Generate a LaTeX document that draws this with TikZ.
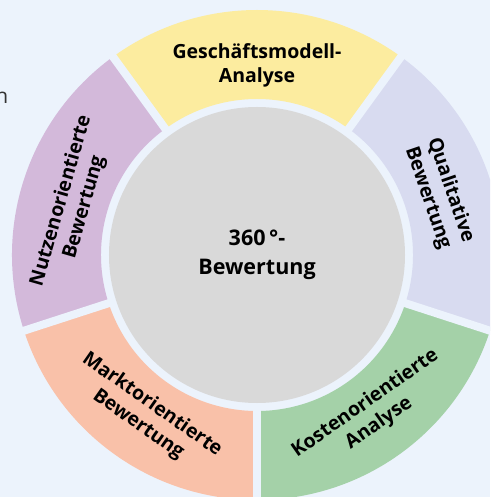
\documentclass[tikz,border=0pt]{standalone}
\usepackage{fontspec}
\setmainfont{Open Sans}
\definecolor{bgc}{HTML}{ECF3FC}
\definecolor{cyel}{HTML}{FCEC9F}
\definecolor{clav}{HTML}{D8DBF0}
\definecolor{cgrn}{HTML}{A4D1A8}
\definecolor{cpnk}{HTML}{F9C1A9}
\definecolor{cpur}{HTML}{D3B9DA}
\definecolor{cgry}{HTML}{D9D9D9}
\definecolor{ctxt}{HTML}{333333}
\tikzset{
  lab/.style={font=\bfseries\fontsize{19.5}{24}\selectfont, align=center, text=black, inner sep=0pt},
  midlab/.style={font=\bfseries\fontsize{21.5}{29}\selectfont, align=center, text=black, inner sep=0pt},
  gapline/.style={bgc, line width=8pt},
}
\newcommand{\ringsector}[3]{%
  \fill[#3] (#1:156) -- (#1:245) arc[start angle=#1, end angle=#2, radius=245]
    -- (#2:156) arc[start angle=#2, end angle=#1, radius=156] -- cycle;}
\begin{document}
\begin{tikzpicture}[x=1pt,y=1pt]
\useasboundingbox (-257,-242) rectangle (233,255);
\fill[bgc] (-257,-242) rectangle (233,255);
\begin{scope}
\clip (-257,-242) rectangle (233,255);
\ringsector{54}{126}{cyel}
\ringsector{126}{198}{cpur}
\ringsector{198}{270}{cpnk}
\ringsector{270}{342}{cgrn}
\ringsector{-18}{54}{clav}
\foreach \a in {54,126,198,270,342}
  \draw[gapline] (\a:140) -- (\a:260);
\fill[cgry] (0,0) circle[radius=148];
\end{scope}
\node[lab] (ga) at (90:190) {Geschäftsmodell-\\Analyse};
\node[lab, rotate=74] (nb) at (164.5:191) {Nutzenorientierte\\Bewertung};
\node[lab, rotate=-35] (mb) at (235:195) {Marktorientierte\\Bewertung};
\node[lab, rotate=35] (ka) at (306:196) {Kostenorientierte\\Analyse};
\node[lab, rotate=-71] (qb) at (18.5:192) {Qualitative\\Bewertung};
\node[midlab] (ctr) at (0,0) {360\,°-\\Bewertung};
\node[anchor=base east, text=ctxt, font=\fontsize{21}{24}\selectfont, inner sep=0pt] (nn) at (-248.5,151) {n};
\end{tikzpicture}
\end{document}
